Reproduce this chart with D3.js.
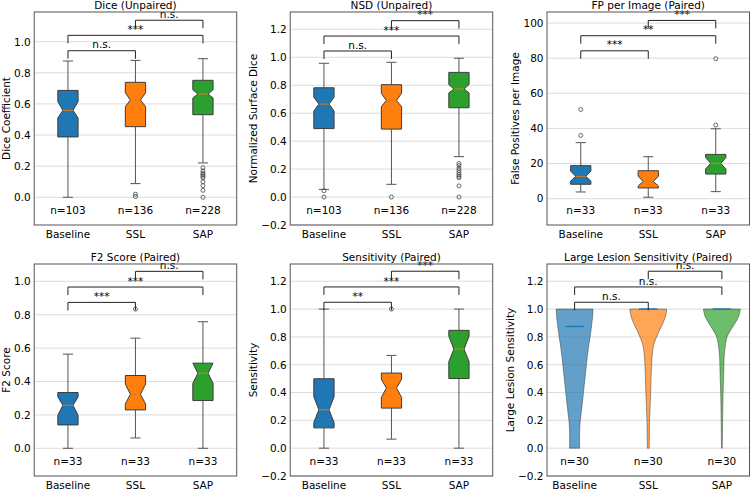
<!DOCTYPE html>
<html><head><meta charset="utf-8">
<script src="https://cdn.jsdelivr.net/npm/d3@7"></script>
<style>body{margin:0;background:#fff} text{font-family:"DejaVu Sans",sans-serif;fill:#000}</style>
</head><body><svg id="c" width="750" height="489"></svg>
<script>
const categories = ["Baseline", "SSL", "SAP"];

// Box stats per group: [whiskerLo, q1, notchLo, median, notchHi, q3, whiskerHi]
const diceStats = [
  [0.000, 0.388, 0.510, 0.559, 0.615, 0.687, 0.876],
  [0.088, 0.454, 0.583, 0.625, 0.672, 0.739, 0.880],
  [0.221, 0.531, 0.638, 0.664, 0.691, 0.752, 0.891]
];
const diceOutliers = [[], [0.02, 0.005], [0.19, 0.17, 0.155, 0.145, 0.135, 0.125, 0.10, 0.075, 0.045, 0.0]];
const diceN = [103, 136, 228];
const diceSig = ["n.s.", "***", "n.s."];
const diceBracketY = [0.942, 1.041, 1.138];
const diceYLim = [-0.178, 1.191];
const diceTicks = [0.0, 0.2, 0.4, 0.6, 0.8, 1.0];

const nsdStats = [
  [0.055, 0.490, 0.615, 0.665, 0.714, 0.782, 0.957],
  [0.091, 0.486, 0.647, 0.691, 0.742, 0.804, 0.964],
  [0.289, 0.639, 0.745, 0.773, 0.805, 0.892, 0.993]
];
const nsdOutliers = [[0.045, 0.0], [0.0], [0.24, 0.225, 0.205, 0.19, 0.175, 0.16, 0.148, 0.138, 0.08, 0.0]];
const nsdN = [103, 136, 228];
const nsdSig = ["n.s.", "***", "***"];
const nsdBracketY = [1.045, 1.152, 1.262];
const nsdYLim = [-0.2, 1.324];
const nsdTicks = [-0.2, 0.0, 0.2, 0.4, 0.6, 0.8, 1.0, 1.2];

const fpStats = [
  [3.8, 8.2, 10.0, 12.7, 15.7, 18.8, 31.9],
  [0.8, 6.1, 7.2, 9.8, 12.8, 15.9, 23.9],
  [4.0, 14.0, 16.9, 20.1, 23.4, 25.2, 39.8]
];
const fpOutliers = [[36.0, 50.8], [], [41.9, 79.7]];
const fpN = [33, 33, 33];
const fpSig = ["***", "**", "***"];
const fpBracketY = [84.2, 92.8, 101.5];
const fpYLim = [-15.0, 106.3];
const fpTicks = [0, 20, 40, 60, 80, 100];

const f2Stats = [
  [0.000, 0.140, 0.198, 0.258, 0.308, 0.334, 0.564],
  [0.062, 0.230, 0.265, 0.324, 0.385, 0.436, 0.660],
  [0.000, 0.286, 0.389, 0.450, 0.510, 0.510, 0.758]
];
const f2Outliers = [[], [0.834], []];
const f2N = [33, 33, 33];
const f2Sig = ["***", "***", "n.s."];
const f2BracketY = [0.874, 0.966, 1.060];
const f2YLim = [-0.166, 1.104];
const f2Ticks = [0.0, 0.2, 0.4, 0.6, 0.8, 1.0];

const sensStats = [
  [0.000, 0.146, 0.185, 0.276, 0.370, 0.499, 1.000],
  [0.065, 0.288, 0.365, 0.432, 0.496, 0.540, 0.667],
  [0.000, 0.501, 0.622, 0.712, 0.805, 0.847, 1.000]
];
const sensOutliers = [[], [1.0], []];
const sensN = [33, 33, 33];
const sensSig = ["**", "***", "***"];
const sensBracketY = [1.049, 1.159, 1.272];
const sensYLim = [-0.2, 1.324];
const sensTicks = [-0.2, 0.0, 0.2, 0.4, 0.6, 0.8, 1.0, 1.2];

// Large lesion sensitivity violins: density width (fraction of max) at levels
const llsLevels = [0, 0.1, 0.15, 0.2, 0.3, 0.4, 0.5, 0.6, 0.65, 0.7, 0.75, 0.8, 0.85, 0.9, 0.95, 1.0];
const llsBaseline = [0.27, 0.27, 0.28, 0.31, 0.40, 0.48, 0.56, 0.64, 0.68, 0.73, 0.78, 0.84, 0.89, 0.94, 0.98, 1.0];
const llsSSL      = [0.05, 0.06, 0.065, 0.07, 0.10, 0.13, 0.15, 0.18, 0.20, 0.24, 0.31, 0.45, 0.62, 0.80, 0.94, 1.0];
const llsSAP      = [0.02, 0.03, 0.035, 0.04, 0.05, 0.065, 0.09, 0.11, 0.12, 0.15, 0.20, 0.28, 0.48, 0.72, 0.92, 1.0];
const llsMedians = [0.875, 1.0, 1.0];
const llsN = [30, 30, 30];
const llsSig = ["n.s.", "n.s.", "n.s."];
const llsBracketY = [1.049, 1.159, 1.272];
const llsYLim = [-0.2, 1.324];
const llsTicks = [-0.2, 0.0, 0.2, 0.4, 0.6, 0.8, 1.0, 1.2];

const pairs = [[0, 1], [0, 2], [1, 2]];
const colors = ["#1f77b4", "#ff7f0e", "#2ca02c"];

const panels = [
  {title: "Dice (Unpaired)", ylabel: "Dice Coefficient", stats: diceStats, out: diceOutliers, n: diceN, sig: diceSig, by: diceBracketY, ylim: diceYLim, ticks: diceTicks, fmt: ".1f", col: 0, row: 0},
  {title: "NSD (Unpaired)", ylabel: "Normalized Surface Dice", stats: nsdStats, out: nsdOutliers, n: nsdN, sig: nsdSig, by: nsdBracketY, ylim: nsdYLim, ticks: nsdTicks, fmt: ".1f", col: 1, row: 0},
  {title: "FP per Image (Paired)", ylabel: "False Positives per Image", stats: fpStats, out: fpOutliers, n: fpN, sig: fpSig, by: fpBracketY, ylim: fpYLim, ticks: fpTicks, fmt: "d", col: 2, row: 0},
  {title: "F2 Score (Paired)", ylabel: "F2 Score", stats: f2Stats, out: f2Outliers, n: f2N, sig: f2Sig, by: f2BracketY, ylim: f2YLim, ticks: f2Ticks, fmt: ".1f", col: 0, row: 1},
  {title: "Sensitivity (Paired)", ylabel: "Sensitivity", stats: sensStats, out: sensOutliers, n: sensN, sig: sensSig, by: sensBracketY, ylim: sensYLim, ticks: sensTicks, fmt: ".1f", col: 1, row: 1},
  {title: "Large Lesion Sensitivity (Paired)", ylabel: "Large Lesion Sensitivity", violin: [llsBaseline, llsSSL, llsSAP], medians: llsMedians, n: llsN, sig: llsSig, by: llsBracketY, ylim: llsYLim, ticks: llsTicks, fmt: ".1f", col: 2, row: 1}
];

const colLeft = [34.2, 290.2, 547.0];
const W = 202.5;
const rowTop = [12, 264];
const rowH = [213, 212];
const FS = 10.5;

const svg = d3.select("#c");

panels.forEach(p => {
  const left = colLeft[p.col], top = rowTop[p.row], h = rowH[p.row], bottom = top + h;
  const g = svg.append("g");
  const xs = d3.scaleLinear().domain(p.violin ? [0.625, 3.375] : [0.5, 3.5]).range([left, left + W]);
  const ys = d3.scaleLinear().domain(p.ylim).range([bottom, top]);
  const unit = xs(1) - xs(0);
  const fmt = d3.format(p.fmt);

  // grid
  g.selectAll(".grid").data(p.ticks).join("line")
    .attr("x1", left).attr("x2", left + W)
    .attr("y1", d => ys(d)).attr("y2", d => ys(d))
    .attr("stroke", "#dcdcdc").attr("stroke-width", 1);

  if (p.stats) {
    const w = 0.3 * unit;
    p.stats.forEach((s, i) => {
      const cx = xs(i + 1);
      const [lo, q1, nl, med, nh, q3, hi] = s;
      const l = cx - w / 2, r = cx + w / 2, cl = cx - w / 4, cr = cx + w / 4;
      g.append("line").attr("x1", cx).attr("x2", cx).attr("y1", ys(q1)).attr("y2", ys(lo)).attr("stroke", "#555").attr("stroke-width", 1);
      g.append("line").attr("x1", cx).attr("x2", cx).attr("y1", ys(q3)).attr("y2", ys(hi)).attr("stroke", "#555").attr("stroke-width", 1);
      [lo, hi].forEach(v => g.append("line").attr("x1", cx - w / 4).attr("x2", cx + w / 4).attr("y1", ys(v)).attr("y2", ys(v)).attr("stroke", "#555").attr("stroke-width", 1));
      const pts = [[l, q1], [r, q1], [r, nl], [cr, med], [r, nh], [r, q3], [l, q3], [l, nh], [cl, med], [l, nl]];
      g.append("path").attr("d", "M" + pts.map(pt => [pt[0], ys(pt[1])].join(",")).join("L") + "Z")
        .attr("fill", colors[i]).attr("stroke", "#3c3c3c").attr("stroke-width", 1);
      g.append("line").attr("x1", cl).attr("x2", cr).attr("y1", ys(med)).attr("y2", ys(med)).attr("stroke", "#e07b1a").attr("stroke-width", 1);
      g.selectAll(null).data(p.out[i]).join("circle")
        .attr("cx", cx).attr("cy", d => ys(d)).attr("r", 2)
        .attr("fill", "none").attr("stroke", "#444").attr("stroke-width", 0.8);
    });
  } else {
    p.violin.forEach((prof, i) => {
      const cx = xs(i + 1);
      const half = 0.25 * unit;
      const area = d3.area().curve(d3.curveMonotoneY)
        .y((d, k) => ys(llsLevels[k]))
        .x0(d => cx - d * half).x1(d => cx + d * half);
      g.append("path").attr("d", area(prof))
        .attr("fill", colors[i]).attr("fill-opacity", 0.7)
        .attr("stroke", "#333").attr("stroke-opacity", 0.6).attr("stroke-width", 0.8);
      g.append("line").attr("x1", cx - half / 2).attr("x2", cx + half / 2)
        .attr("y1", ys(p.medians[i])).attr("y2", ys(p.medians[i]))
        .attr("stroke", "#1f77b4").attr("stroke-width", 1.5);
    });
  }

  pairs.forEach((pr, k) => {
    const x1 = xs(pr[0] + 1), x2 = xs(pr[1] + 1), yb = ys(p.by[k]);
    g.append("path").attr("d", `M${x1},${yb + 8}V${yb}H${x2}V${yb + 8}`)
      .attr("fill", "none").attr("stroke", "#222").attr("stroke-width", 1);
    g.append("text").attr("x", (x1 + x2) / 2).attr("y", yb - 2.4)
      .attr("text-anchor", "middle").attr("font-size", FS).text(p.sig[k]);
  });

  p.n.forEach((n, i) => {
    g.append("text").attr("x", xs(i + 1)).attr("y", bottom - 11)
      .attr("text-anchor", "middle").attr("font-size", FS).text("n=" + n);
  });

  g.append("rect").attr("x", left).attr("y", top).attr("width", W).attr("height", h)
    .attr("fill", "none").attr("stroke", "#555").attr("stroke-width", 1);

  const tg = g.append("g");
  tg.selectAll("text").data(p.ticks).join("text")
    .attr("x", left - 3.5).attr("y", d => ys(d) + 3.8)
    .attr("text-anchor", "end").attr("font-size", FS).text(d => fmt(d));
  categories.forEach((c, i) => {
    g.append("text").attr("x", xs(i + 1)).attr("y", bottom + 12.6)
      .attr("text-anchor", "middle").attr("font-size", FS).text(c);
  });
  g.append("text").attr("x", left + W / 2).attr("y", top - 3.5)
    .attr("text-anchor", "middle").attr("font-size", FS).text(p.title);
  const bb = tg.node().getBBox();
  const lx = bb.x - 4;
  g.append("text").attr("transform", `translate(${lx},${top + h / 2}) rotate(-90)`)
    .attr("text-anchor", "middle").attr("font-size", FS).text(p.ylabel);
});
</script></body></html>
